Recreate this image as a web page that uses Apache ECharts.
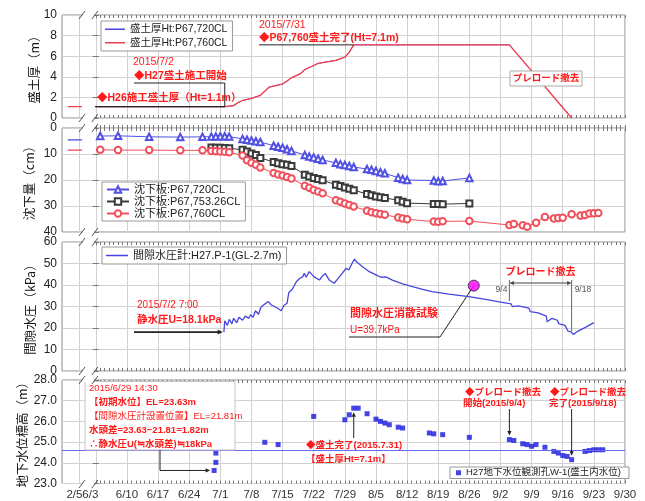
<!DOCTYPE html>
<html>
<head>
<meta charset="utf-8">
<script src="https://cdn.jsdelivr.net/npm/echarts@6/dist/echarts.min.js"></script>
<style>
html,body{margin:0;padding:0;background:#fff}
#c{width:645px;height:501px}
</style>
</head>
<body>
<div id="c"></div>
<script>
// ---- time axis: days counted from 2015/6/3; the period before the axis break (2/5) is squeezed to the left edge
const AXIS_MIN = -7.6, AXIS_MAX = 119;
const BREAK_TICK = -3.8;          // where the 2/5 tick sits, left of the break
const BREAK_MARKS = [-3.1, -0.2]; // the two "//" marks of the break

function dayOf(s) {
  const [md, hm] = s.split(' ');
  const [m, d] = md.split('/').map(Number);
  let t = (Date.UTC(2015, m - 1, d) - Date.UTC(2015, 5, 3)) / 86400000;
  if (hm) { const [h, mi] = hm.split(':').map(Number); t += (h + mi / 60) / 24; }
  return t;
}

const xTickLabels = ['2/5','6/3','6/10','6/17','6/24','7/1','7/8','7/15','7/22','7/29','8/5','8/12','8/19','8/26','9/2','9/9','9/16','9/23','9/30'];

// ---- fill thickness (m)
const fillDates = ['6/3','7/2','7/4','7/5','7/6','7/8','7/10','7/11','7/12','7/13','7/15','7/16','7/17','7/19','7/20','7/21','7/22','7/23','7/25','7/27','7/29','7/30','7/31','9/4','9/18'];
const fill760 = [1.1,1.1,1.2,1.5,1.7,1.9,2.2,2.6,3.0,3.1,3.3,3.6,3.9,4.3,4.7,4.9,5.1,5.3,5.45,5.6,5.9,6.4,7.1,7.1,0.0];
const fill720 = [1.1,1.1,1.2,1.5,1.7,1.9,2.2,2.6,3.0,3.1,3.3,3.6,3.9,4.3,4.7,4.9,5.1,5.3,5.45,5.6,5.9,6.4,7.1,7.1,0.0];

// ---- H26 values shown left of the break
const h26Pos = [-6.3, -3.1];
const h26Fill = 1.1;
const h26Settle720 = 4.6;
const h26Settle760 = 8.5;

// ---- settlement plates (cm)
const plateDates = ['6/4','6/8','6/15','6/22','6/27',
  '6/29','6/30','7/1','7/2','7/3','7/6','7/7','7/8','7/9','7/10',
  '7/13','7/14','7/15','7/16','7/17','7/20','7/21','7/22','7/23','7/24',
  '7/27','7/28','7/29','7/30','7/31','8/3','8/4','8/5','8/6','8/7',
  '8/10','8/11','8/12','8/18','8/19','8/20','8/26',
  '9/4','9/5','9/7','9/8','9/10','9/12','9/14','9/15','9/16','9/18','9/20','9/21','9/22','9/23','9/24'];
const settle720 = [3.1,3.0,3.4,3.5,3.4,
  3.3,3.3,3.2,3.2,3.3, 4.2,4.5,4.8,5.1,5.4,
  6.8,7.2,7.6,8.2,8.8, 10.4,11.0,11.3,11.8,12.3,
  13.4,13.9,14.2,14.6,15.0, 15.8,16.1,16.5,17.0,17.4,
  19.1,19.6,20.0, 20.2,20.5,20.4, 19.2,
  null,null,null,null,null,null,null,null,null,null,null,null,null,null,null];
const settle753 = [null,null,null,null,null,
  7.5,7.6,7.6,7.7,7.8, 8.4,9.0,9.8,10.4,11.5,
  13.1,13.6,13.9,14.1,14.6, 18.0,18.7,19.2,19.6,20.1,
  21.8,22.3,22.9,23.4,23.9, 25.4,25.9,26.3,26.6,26.9,
  27.8,28.4,28.9, 29.2,29.2,29.3, 29.0,
  null,null,null,null,null,null,null,null,null,null,null,null,null,null,null];
const settle760 = [8.4,8.5,8.5,8.6,8.6,
  8.8,8.9,9.0,9.1,9.3, 10.6,12.4,13.4,14.1,15.2,
  17.3,17.9,18.3,18.8,19.4, 22.2,23.0,23.8,24.4,25.1,
  27.8,28.4,29.0,29.6,30.2, 31.8,32.4,32.8,33.1,33.4,
  34.4,34.8,35.1, 36.0,36.1,35.9, 35.8,
  37.3,36.9,37.4,38.0,36.4,34.2,34.8,34.6,34.5,33.2,33.7,33.5,32.9,32.8,32.7];

// ---- pore water pressure H27.P-1 (day from 6/3, kPa)
const poreDay = [28.8,29.0,29.6,30.0,30.6,31.0,31.7,32.2,33.0,33.6,34.4,34.8,35.4,35.9,36.6,37.1,37.9,38.8,39.4,40.9,
  41.7,42.3,43.0,43.4,44.2,44.7,45.1,45.8,46.5,46.9,47.3,48.0,49.1,50.3,50.8,51.6,52.5,53.6,54.5,55.4,
  56.3,56.9,57.8,58.2,58.6,60.0,61.5,63.0,64.1,65.2,66.7,69.0,71.2,73.5,75.6,79.4,83.9,87.7,90.7,93.4,
  93.7,95.0,97.4,97.7,99.5,101.3,101.5,102.6,103.8,104.1,105.5,106.2,106.8,107.4,108.2,110.1,112.0];
const poreKPa = [18.1,23.3,21.2,24.0,22.0,24.5,22.4,25.0,23.6,25.5,24.5,26.2,25.0,28.0,26.4,29.5,31.0,32.3,30.8,29.2,
  28.0,30.5,31.5,36.5,38.0,40.0,41.5,43.0,43.8,45.4,43.6,46.2,43.8,42.3,43.8,45.4,42.3,40.8,43.1,45.4,
  47.8,47.0,50.8,52.0,50.8,48.5,46.2,44.7,43.6,43.8,42.3,40.5,39.2,38.0,36.9,35.8,34.6,33.3,32.2,31.2,
  29.9,30.3,29.2,27.6,27.0,25.5,22.9,24.5,23.6,22.0,21.2,18.5,18.3,17.0,18.3,20.3,22.5];
const dissipationDate = '8/27';
const dissipationKPa = 39.7;

// ---- groundwater level W-1 (EL m)
const gwDates = ['6/29 14:30','6/30','6/30','7/11','7/14','7/22','7/29','7/30','7/31','8/1','8/3','8/5','8/6','8/7','8/8',
  '8/10','8/11','8/17','8/18','8/20','8/26','9/4','9/5','9/7','9/8','9/9','9/10','9/12','9/14','9/15','9/16','9/17','9/18',
  '9/21','9/22','9/23','9/24','9/25'];
const gwLevel = [23.63,24.02,24.47,24.99,24.88,26.24,26.08,26.32,26.64,26.64,26.37,26.11,26.00,25.92,25.84,
  25.72,25.68,25.44,25.40,25.36,25.23,25.12,25.08,24.92,24.88,24.80,24.88,24.75,24.55,24.47,24.35,24.31,24.15,
  24.55,24.59,24.63,24.63,24.63];
const gwRefLevel = 24.6;

// ---- styling
const FONT = "'Liberation Sans','Noto Sans CJK JP',sans-serif";
const JP = "'Noto Sans CJK JP','Liberation Sans',sans-serif";
const C_BLUE = '#4646de', C_RED = '#f23c4a', C_BLACK = '#333333', C_TXT = '#ff1a1a';
const GRID_LINE = '#d2d2d2', BORDER = '#8a8a8a';
const gridTop = [15, 128, 242, 380], gridH = [103, 104, 129, 104];

const xTickPos = xTickLabels.map(s => s === '2/5' ? BREAK_TICK : dayOf(s));
const labelAt = new Map(xTickPos.map((p, i) => [p, xTickLabels[i]]));
const dayTicks = [];
for (let d = 0; d <= AXIS_MAX; d++) dayTicks.push(d);

const xAxes = [];
for (let g = 0; g < 4; g++) {
  const base = { gridIndex: g, type: 'value', min: AXIS_MIN, max: AXIS_MAX };
  xAxes.push(Object.assign({}, base, {
    position: 'bottom',
    axisLine: { show: false },
    axisTick: { show: false, customValues: xTickPos },
    splitLine: { show: true, lineStyle: { color: GRID_LINE, width: 1 } },
    axisLabel: g === 3 ? {
      show: true, customValues: xTickPos, margin: 6, color: '#333', fontSize: 11.5, fontFamily: FONT,
      formatter: v => {
        const s = labelAt.get(v) || '';
        if (s === '2/5') return '{a|2/5}';
        if (s === '6/3') return '{b|6/3}';
        return s;
      },
      rich: {
        a: { color: '#333', fontSize: 11.5, fontFamily: FONT, padding: [0, 9, 0, 0] },
        b: { color: '#333', fontSize: 11.5, fontFamily: FONT, padding: [0, 11, 0, 0] }
      }
    } : { show: false }
  }));
  ['bottom', 'top'].forEach(pos => xAxes.push(Object.assign({}, base, {
    position: pos,
    axisLine: { show: false },
    axisTick: { show: true, inside: true, length: 3, customValues: dayTicks, lineStyle: { color: '#777' } },
    axisLabel: { show: false },
    splitLine: { show: false }
  })));
}

const yDefs = [
  { min: 0, max: 10, interval: 2, name: '盛土厚（m）', nameGap: 21 },
  { min: 0, max: 40, interval: 10, inverse: true, name: '沈下量（cm）', nameGap: 26 },
  { min: 0, max: 60, interval: 10, name: '間隙水圧（kPa）', nameGap: 25 },
  { min: 23, max: 28, interval: 1, name: '地下水位標高（m）', nameGap: 33, fmt: v => v.toFixed(1) }
];
const yAxes = [];
yDefs.forEach((d, g) => {
  yAxes.push({
    gridIndex: g, type: 'value', position: 'left', min: d.min, max: d.max, interval: d.interval, inverse: !!d.inverse,
    name: d.name, nameLocation: 'middle', nameGap: d.nameGap, nameMoveOverlap: false,
    nameTextStyle: { fontSize: 12.5, color: '#111', fontFamily: JP },
    axisLine: { show: false },
    axisTick: { show: true, inside: true, length: 3, lineStyle: { color: '#777' } },
    axisLabel: { color: '#222', fontSize: 12, fontFamily: FONT, margin: 5, formatter: d.fmt },
    splitLine: { show: true, lineStyle: { color: GRID_LINE, width: 1 } }
  });
  yAxes.push({
    gridIndex: g, type: 'value', position: 'right', min: d.min, max: d.max, interval: d.interval, inverse: !!d.inverse,
    axisLine: { show: false },
    axisTick: { show: true, inside: true, length: 3, lineStyle: { color: '#777' } },
    axisLabel: { show: false },
    splitLine: { show: false }
  });
});

const pairs = (dates, vals) => dates.map((d, i) => [dayOf(d), vals[i]]).filter(p => p[1] != null);
const onGrid = g => ({ xAxisIndex: g * 3, yAxisIndex: g * 2 });

const N_F720 = '盛土厚Ht:P67,720CL', N_F760 = '盛土厚Ht:P67,760CL';
const N_S720 = '沈下板:P67,720CL', N_S753 = '沈下板:P67,753.26CL', N_S760 = '沈下板:P67,760CL';
const N_PORE = '間隙水圧計:H27.P-1(GL-2.7m)';
const N_GW = 'H27地下水位観測孔W-1(盛土内水位)';

const lineS = (name, g, data, color, width, extra) => Object.assign({
  name, type: 'line', data, ...onGrid(g), symbol: 'none', showSymbol: false,
  lineStyle: { color, width: width || 1.1 }, itemStyle: { color }, z: 3
}, extra || {});
const plateS = (name, vals, color, symbol, size) => lineS(name, 1, pairs(plateDates, vals), color, 1, {
  symbol, showSymbol: true, symbolSize: size,
  itemStyle: { color, borderColor: color, borderWidth: 0.7 }
});

const series = [
  lineS(N_F720, 0, pairs(fillDates, fill720), C_BLUE, 0.8, { z: 2 }),
  lineS(N_F760, 0, pairs(fillDates, fill760), C_RED, 1.3),
  lineS(N_F760, 0, h26Pos.map(x => [x, h26Fill]), C_RED, 1.3),
  plateS(N_S720, settle720, '#5050e2', 'emptyTriangle', 6.5),
  plateS(N_S753, settle753, '#3a3a3a', 'emptyRect', 6),
  plateS(N_S760, settle760, '#f0505c', 'emptyCircle', 6.5),
  lineS(N_S720, 1, h26Pos.map(x => [x, h26Settle720]), C_BLUE, 1.2),
  lineS(N_S760, 1, h26Pos.map(x => [x, h26Settle760]), C_RED, 1.2),
  lineS(N_PORE, 2, poreDay.map((d, i) => [d, poreKPa[i]]), C_BLUE, 1.3),
  { type: 'scatter', ...onGrid(2), data: [[dayOf(dissipationDate), dissipationKPa]], symbol: 'circle', symbolSize: 11,
    itemStyle: { color: '#ff00ff', borderColor: '#222', borderWidth: 1 }, z: 5 },
  { name: N_GW, type: 'scatter', ...onGrid(3), data: pairs(gwDates, gwLevel), symbol: 'rect', symbolSize: 5,
    itemStyle: { color: '#1616e0' }, z: 4,
    markLine: { silent: true, symbol: 'none', label: { show: false }, animation: false,
      lineStyle: { color: '#6a6af0', width: 1, type: 'solid' }, data: [{ yAxis: gwRefLevel }] } }
];

const legendBase = {
  orient: 'vertical', backgroundColor: '#fff', borderColor: '#999', borderWidth: 1,
  selectedMode: false, itemGap: 1, textStyle: { color: '#222', fontFamily: FONT, fontSize: 11 }
};
const lineIcon = names => names.map(n => ({ name: n, icon: 'rect' }));
const legends = [
  Object.assign({}, legendBase, { data: lineIcon([N_F720, N_F760]), left: 101, top: 21, itemWidth: 20, itemHeight: 1.5,
    itemGap: 3, padding: [3, 5, 3, 4], textStyle: { color: '#222', fontFamily: FONT, fontSize: 10.5 } }),
  Object.assign({}, legendBase, { data: [N_S720, N_S753, N_S760], left: 102, top: 182, itemWidth: 22, itemHeight: 8,
    padding: [2, 5, 2, 4] }),
  Object.assign({}, legendBase, { data: lineIcon([N_PORE]), left: 102, top: 247, itemWidth: 22, itemHeight: 1.5,
    padding: [3, 5, 3, 4] }),
  Object.assign({}, legendBase, { data: [N_GW], left: 450, top: 467, itemWidth: 5, itemHeight: 5, padding: [1, 8, 1, 6],
    textStyle: { color: '#222', fontFamily: FONT, fontSize: 9.5 } })
];

const option = {
  animation: false,
  backgroundColor: '#fff',
  grid: gridTop.map((t, g) => ({ left: 62, right: 20, top: t, height: gridH[g], show: true,
    borderColor: BORDER, borderWidth: 1, backgroundColor: '#fff' })),
  xAxis: xAxes,
  yAxis: yAxes,
  legend: legends,
  series
};

const chart = echarts.init(document.getElementById('c'), null, { renderer: 'canvas' });
chart.setOption(option);

// ---- annotations, anchored to the axes
const at = (g, x, y) => chart.convertToPixel(onGrid(g), [x, y]);
const G = [];
const T = (x, y, s, o) => G.push({ type: 'text', x, y, z: 100, silent: true,
  style: Object.assign({ text: s, fill: C_TXT, fontSize: 10.5, fontFamily: FONT, align: 'left', verticalAlign: 'middle' }, o || {}) });
const L = (x1, y1, x2, y2, o, z) => G.push({ type: 'line', z: z == null ? 100 : z, silent: true,
  shape: { x1, y1, x2, y2 }, style: Object.assign({ stroke: '#222', lineWidth: 1 }, o || {}) });
const R = (x, y, w, h, o) => G.push({ type: 'rect', z: 99, silent: true,
  shape: { x, y, width: w, height: h }, style: Object.assign({ fill: '#fff', stroke: '#aaa', lineWidth: 1 }, o || {}) });
const HEAD = (x, y, dir, s, color) => {
  s = s || 4;
  const pts = { r: [[x, y], [x - s * 1.5, y - s * 0.7], [x - s * 1.5, y + s * 0.7]],
                l: [[x, y], [x + s * 1.5, y - s * 0.7], [x + s * 1.5, y + s * 0.7]],
                u: [[x, y], [x - s * 0.7, y + s * 1.5], [x + s * 0.7, y + s * 1.5]],
                d: [[x, y], [x - s * 0.7, y - s * 1.5], [x + s * 0.7, y - s * 1.5]] }[dir];
  G.push({ type: 'polygon', z: 100, silent: true, shape: { points: pts }, style: { fill: color || '#222' } });
};
const B = { fontWeight: 'bold' };

// panel 1: fill thickness
{
  const end = at(0, dayOf('7/31'), 7.1);
  T(259, 25, '2015/7/31');
  T(259, 38.5, '◆P67,760盛土完了(Ht=7.1m)', B);
  L(259, end[1], end[0], end[1]);
  const start = at(0, dayOf('7/2'), 1.1);
  T(133, 62, '2015/7/2');
  T(134, 76, '◆H27盛土施工開始', B);
  L(134, 83, start[0], 83);
  L(start[0], 83, start[0], start[1]);
  T(97, 98.5, '◆H26施工盛土厚（Ht=1.1m）', B);
  L(95, start[1], start[0], start[1], { lineWidth: 1.2 });
  R(510, 71, 72, 15);
  T(546, 78.5, 'プレロード撤去', { align: 'center', fontSize: 9.5, fontWeight: 'bold' });
}
// panel 3: pore pressure
{
  const p0 = at(2, poreDay[0], poreKPa[0]);
  T(137, 305, '2015/7/2 7:00', { fontSize: 10 });
  T(137, 320, '静水圧U=18.1kPa', { fontSize: 10.5, fontWeight: 'bold' });
  L(134, p0[1], p0[0] - 5, p0[1], { lineWidth: 1.8 });
  HEAD(p0[0] - 1, p0[1], 'r', 3.5);
  const c = at(2, dayOf(dissipationDate), dissipationKPa);
  L(c[0], c[1], 440, 337, null, 1);
  L(440, 337, 349, 337, null, 1);
  T(350, 314, '間隙水圧消散試験', { fontSize: 11, fontWeight: 'bold' });
  T(350, 330, 'U=39.7kPa', { fontSize: 10 });
  const a = at(2, dayOf('9/4'), 31)[0], b = at(2, dayOf('9/18'), 18)[0];
  T((a + b) / 2, 272, 'プレロード撤去', { align: 'center', fontSize: 10, fontWeight: 'bold' });
  L(a + 4, 283, b - 4, 283, { stroke: '#444' });
  HEAD(a, 283, 'l', 3, '#444');
  HEAD(b, 283, 'r', 3, '#444');
  L(a, 280, a, 301, { stroke: '#666' });
  L(b, 280, b, 331, { stroke: '#666' });
  T(a - 2, 290, '9/4', { align: 'right', fontSize: 8.5, fill: '#555' });
  T(b + 3, 290, '9/18', { align: 'left', fontSize: 8.5, fill: '#555' });
}
// panel 4: groundwater level
{
  R(85, 381.5, 150, 68.5, { stroke: '#c4c4c4' });
  T(89, 388, '2015/6/29 14:30', { fontSize: 9.5 });
  T(89, 402.5, '【初期水位】EL=23.63m', { fontSize: 9.5, fontWeight: 'bold' });
  T(89, 416.5, '【間隙水圧計設置位置】EL=21.81m', { fontSize: 9.5 });
  T(89, 430.5, '水頭差=23.63−21.81=1.82m', { fontSize: 9.5, fontWeight: 'bold' });
  T(89, 444, '∴静水圧U(≒水頭差)≒18kPa', { fontSize: 9.5, fontWeight: 'bold' });
  const p0 = at(3, dayOf('6/29 14:30'), 23.63);
  L(160, 450, 160, p0[1]);
  L(160, p0[1], p0[0] - 8, p0[1]);
  HEAD(p0[0] - 4, p0[1], 'r', 3);

  T(306, 445, '◆盛土完了(2015.7.31)', { fontSize: 9.5, fontWeight: 'bold' });
  T(306, 459, '【盛土厚Ht=7.1m】', { fontSize: 9.5, fontWeight: 'bold' });
  const pk = at(3, dayOf('7/31'), 26.64);
  L(pk[0], 438, pk[0], pk[1] + 6);
  HEAD(pk[0], pk[1] + 4, 'u', 3);

  T(465, 392, '◆プレロード撤去', { fontSize: 9.5, fontWeight: 'bold' });
  T(463, 403.5, '開始(2015/9/4)', { fontSize: 9.5, fontWeight: 'bold' });
  const q = at(3, dayOf('9/4'), 25.12);
  L(q[0], 409, q[0], q[1] - 7);
  HEAD(q[0], q[1] - 4, 'd', 3);

  T(550, 392, '◆プレロード撤去', { fontSize: 9.5, fontWeight: 'bold' });
  T(549, 403.5, '完了(2015/9/18)', { fontSize: 9.5, fontWeight: 'bold' });
  const r = at(3, dayOf('9/18'), 24.15);
  L(r[0], 409, r[0], r[1] - 7);
  HEAD(r[0], r[1] - 4, 'd', 3);
}
// axis break marks on every panel border
for (let g = 0; g < 4; g++) {
  const xa = at(g, BREAK_MARKS[0], yDefs[g].min)[0], xb = at(g, BREAK_MARKS[1], yDefs[g].min)[0];
  [gridTop[g], gridTop[g] + gridH[g]].forEach(y => {
    G.push({ type: 'rect', z: 100, silent: true, shape: { x: xa + 1, y: y - 2, width: xb - xa - 2, height: 4 }, style: { fill: '#fff' } });
    L(xa - 3, y + 4, xa + 3, y - 4, { stroke: '#555' }, 101);
    L(xb - 3, y + 4, xb + 3, y - 4, { stroke: '#555' }, 101);
  });
}
chart.setOption({ graphic: G });
</script>
</body>
</html>
